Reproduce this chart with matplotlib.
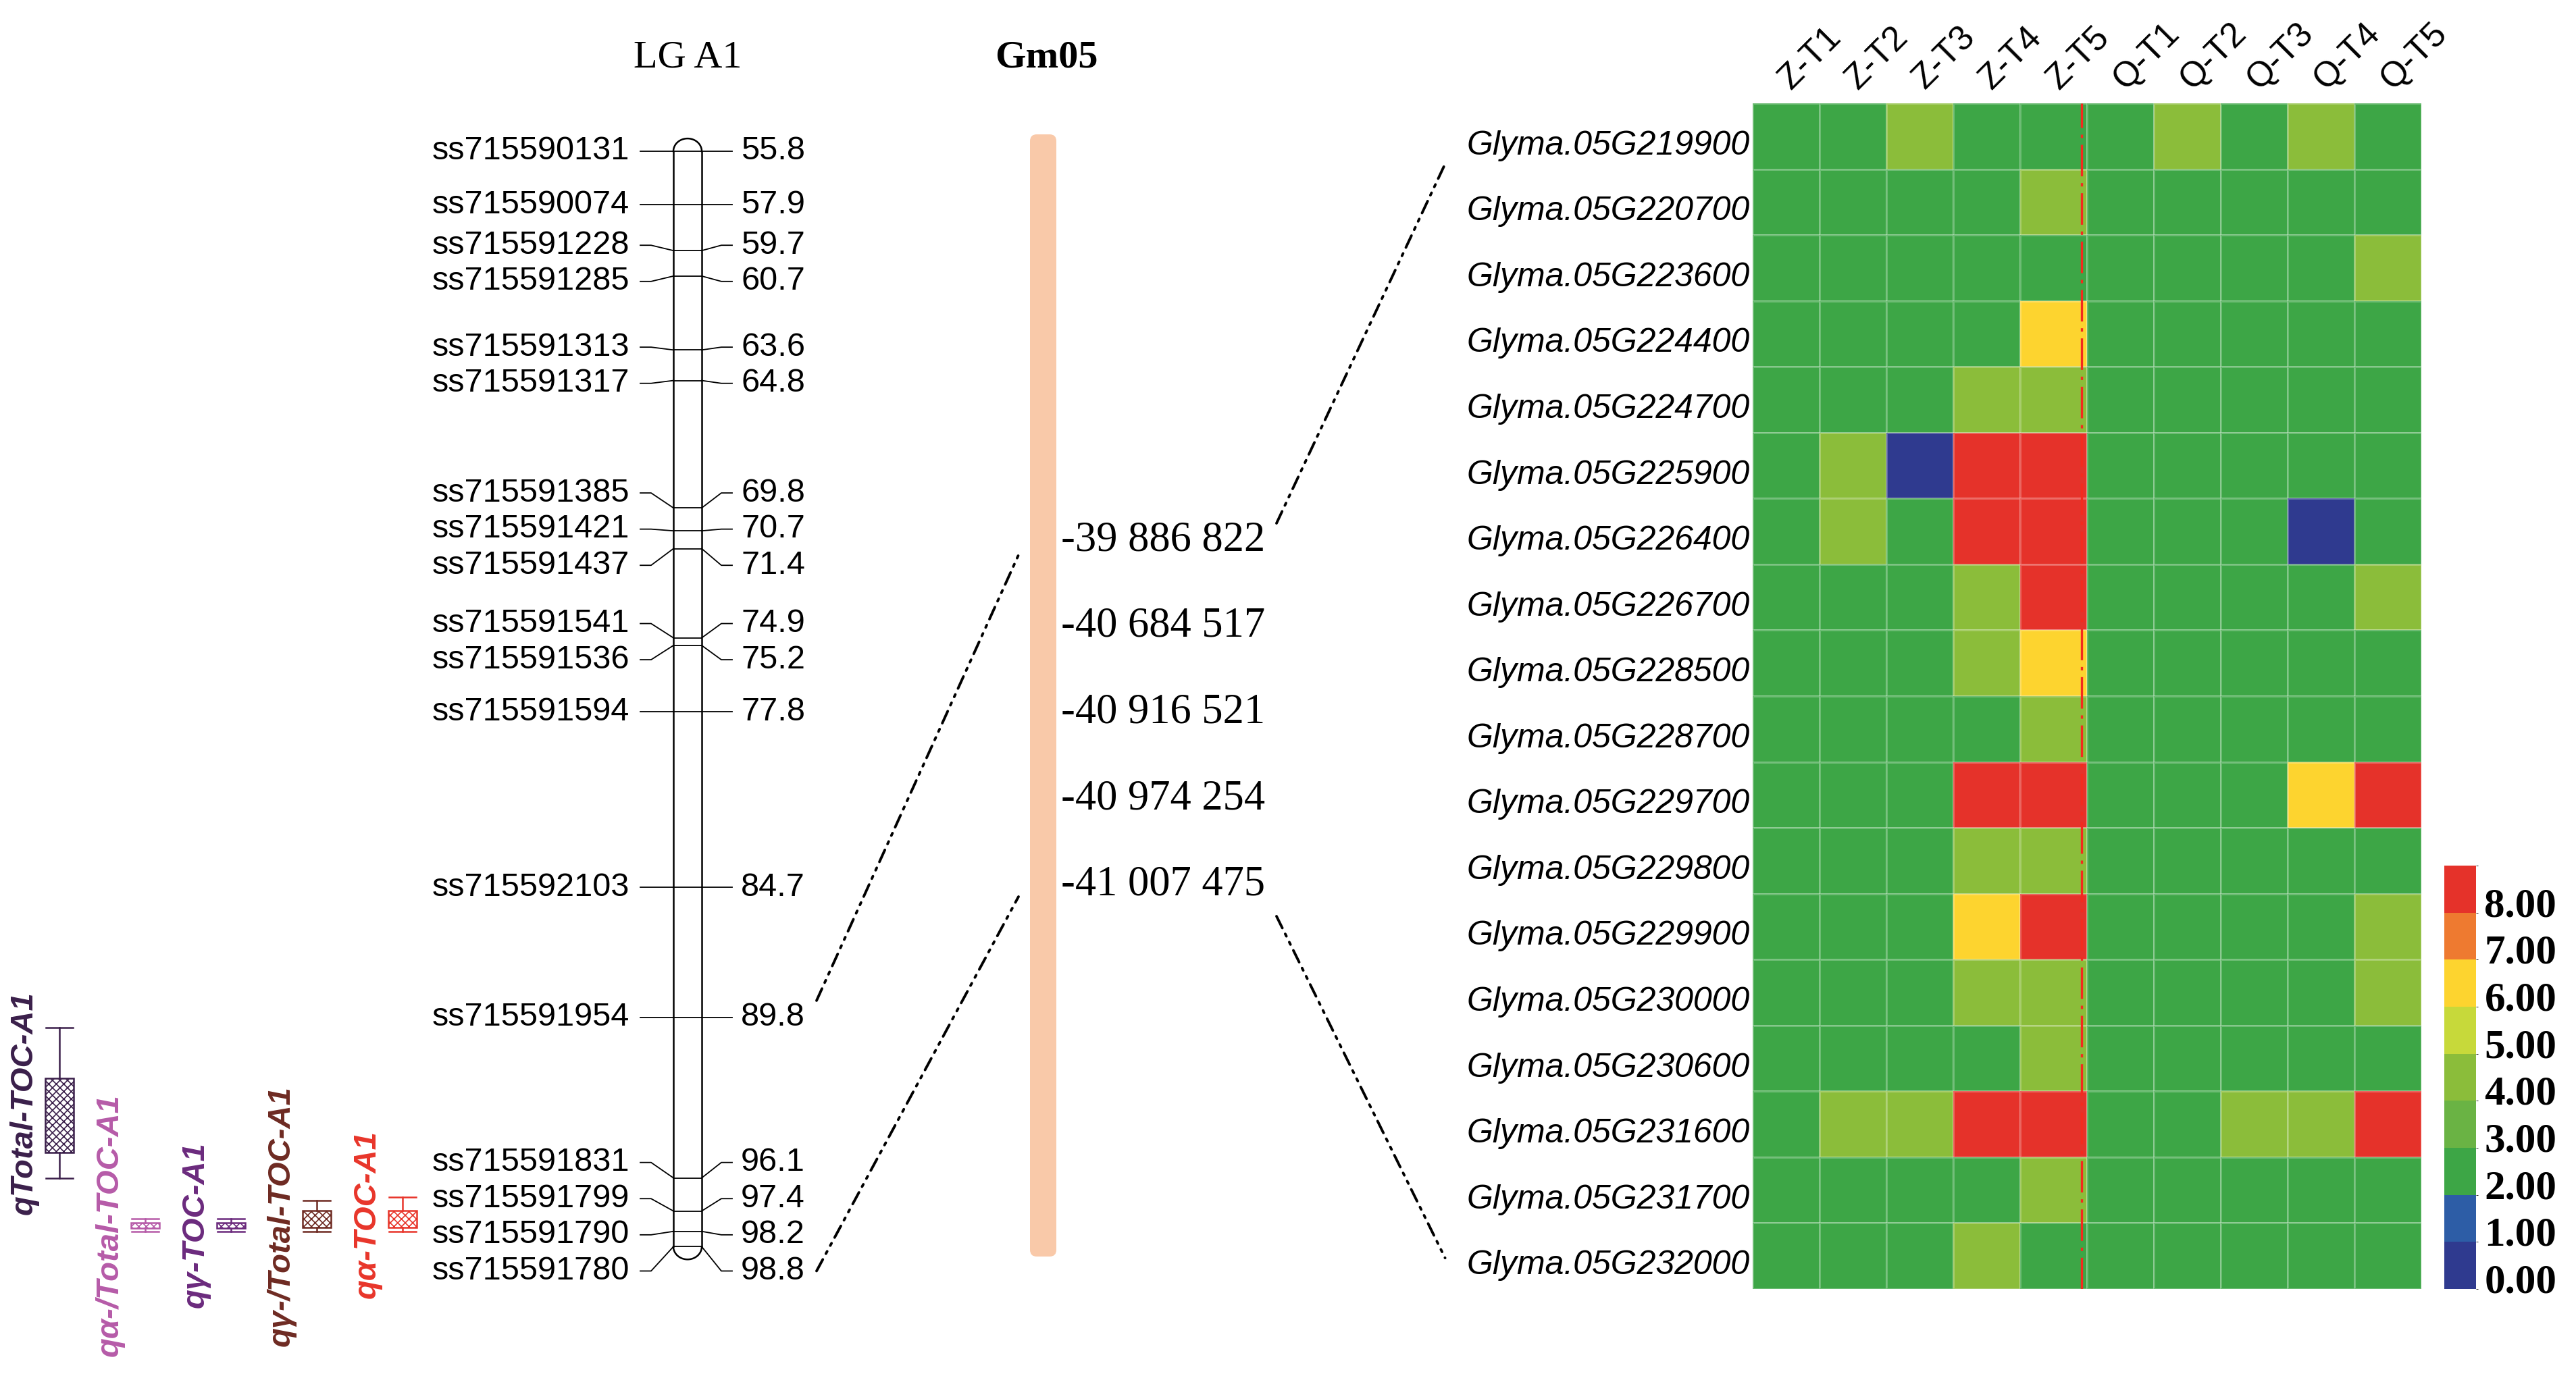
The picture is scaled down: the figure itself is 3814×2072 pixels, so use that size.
import matplotlib

matplotlib.use('Agg')
import matplotlib.pyplot as plt
import numpy as np
from matplotlib.colors import ListedColormap, BoundaryNorm
from matplotlib.cm import ScalarMappable
from matplotlib.patches import Rectangle, FancyBboxPatch, ConnectionPatch
from matplotlib.transforms import ScaledTranslation

plt.rcParams['font.family'] = ['Liberation Sans', 'DejaVu Sans']
plt.rcParams['hatch.linewidth'] = 1.2

W, H = 3814, 2072  # output size in pixels at dpi 100

# linkage group LG A1
markers = ['ss715590131', 'ss715590074', 'ss715591228', 'ss715591285', 'ss715591313',
           'ss715591317', 'ss715591385', 'ss715591421', 'ss715591437', 'ss715591541',
           'ss715591536', 'ss715591594', 'ss715592103', 'ss715591954', 'ss715591831',
           'ss715591799', 'ss715591790', 'ss715591780']
marker_cm = [55.8, 57.9, 59.7, 60.7, 63.6, 64.8, 69.8, 70.7, 71.4, 74.9, 75.2, 77.8,
             84.7, 89.8, 96.1, 97.4, 98.2, 98.8]

# QTL support intervals (cM)
qtl_names = ['qTotal-TOC-A1', 'qα-/Total-TOC-A1', 'qγ-TOC-A1', 'qγ-/Total-TOC-A1', 'qα-TOC-A1']
qtl_colors = ['#3a1f4a', '#b65ba8', '#6b2a7d', '#6e2a22', '#e8352a']
qtl_lo = [90.2, 97.7, 97.7, 97.0, 96.85]
qtl_q1 = [92.2, 97.86, 97.86, 97.38, 97.38]
qtl_q3 = [95.1, 98.07, 98.07, 98.05, 98.05]
qtl_hi = [96.1, 98.2, 98.2, 98.2, 98.2]

# physical positions on Gm05
gm05_pos = ['-39 886 822', '-40 684 517', '-40 916 521', '-40 974 254', '-41 007 475']

# expression heatmap
genes = ['Glyma.05G219900', 'Glyma.05G220700', 'Glyma.05G223600', 'Glyma.05G224400',
         'Glyma.05G224700', 'Glyma.05G225900', 'Glyma.05G226400', 'Glyma.05G226700',
         'Glyma.05G228500', 'Glyma.05G228700', 'Glyma.05G229700', 'Glyma.05G229800',
         'Glyma.05G229900', 'Glyma.05G230000', 'Glyma.05G230600', 'Glyma.05G231600',
         'Glyma.05G231700', 'Glyma.05G232000']
samples = ['Z-T1', 'Z-T2', 'Z-T3', 'Z-T4', 'Z-T5', 'Q-T1', 'Q-T2', 'Q-T3', 'Q-T4', 'Q-T5']
expr = [
    [2, 2, 4, 2, 2, 2, 4, 2, 4, 2],
    [2, 2, 2, 2, 4, 2, 2, 2, 2, 2],
    [2, 2, 2, 2, 2, 2, 2, 2, 2, 4],
    [2, 2, 2, 2, 6, 2, 2, 2, 2, 2],
    [2, 2, 2, 4, 4, 2, 2, 2, 2, 2],
    [2, 4, 0, 8, 8, 2, 2, 2, 2, 2],
    [2, 4, 2, 8, 8, 2, 2, 2, 0, 2],
    [2, 2, 2, 4, 8, 2, 2, 2, 2, 4],
    [2, 2, 2, 4, 6, 2, 2, 2, 2, 2],
    [2, 2, 2, 2, 4, 2, 2, 2, 2, 2],
    [2, 2, 2, 8, 8, 2, 2, 2, 6, 8],
    [2, 2, 2, 4, 4, 2, 2, 2, 2, 2],
    [2, 2, 2, 6, 8, 2, 2, 2, 2, 4],
    [2, 2, 2, 4, 4, 2, 2, 2, 2, 4],
    [2, 2, 2, 2, 4, 2, 2, 2, 2, 2],
    [2, 4, 4, 8, 8, 2, 2, 4, 4, 8],
    [2, 2, 2, 2, 4, 2, 2, 2, 2, 2],
    [2, 2, 2, 4, 2, 2, 2, 2, 2, 2],
]
level_colors = ['#2f3a8f', '#2d5da6', '#3da646', '#6ab344', '#8bbd3a',
                '#c7d93a', '#fdd42f', '#ee7a30', '#e5322a']
level_ticks = [0, 1, 2, 3, 4, 5, 6, 7, 8]
level_labels = ['0.00', '1.00', '2.00', '3.00', '4.00', '5.00', '6.00', '7.00', '8.00']


def spread(pos, gap):
    # push crowded labels apart, keeping each cluster centred on its markers
    groups = []
    for p in pos:
        groups.append([p])
        while len(groups) > 1:
            a, b = groups[-2], groups[-1]
            end_a = np.mean(a) + (len(a) - 1) / 2 * gap
            start_b = np.mean(b) - (len(b) - 1) / 2 * gap
            if start_b - end_a < gap:
                groups[-2:] = [a + b]
            else:
                break
    out = []
    for g in groups:
        c = np.mean(g)
        out += [c + (i - (len(g) - 1) / 2) * gap for i in range(len(g))]
    return out


def rect(x0, y0, x1, y1):
    # figure rect from a pixel box, origin top-left
    return [x0 / W, 1 - y1 / H, (x1 - x0) / W, (y1 - y0) / H]


fig = plt.figure(figsize=(W / 100, H / 100), dpi=100)
fig.patch.set_facecolor('white')

ov = fig.add_axes([0, 0, 1, 1])
ov.set_xlim(0, W)
ov.set_ylim(H, 0)
ov.axis('off')

# ---- linkage map, y axis in cM
px_per_cm = 37.73
cm_top, cm_bot = 52.0, 104.5
y_first = 224
ax_map = fig.add_axes(rect(0, y_first - (marker_cm[0] - cm_top) * px_per_cm,
                           1250, y_first + (cm_bot - marker_cm[0]) * px_per_cm))
ax_map.set_xlim(0, 1250)
ax_map.set_ylim(cm_bot, cm_top)
ax_map.axis('off')

xl, xr = 997, 1039
xc, r, ry = (xl + xr) / 2, (xr - xl) / 2, 0.5
for x in (xl, xr):
    ax_map.plot([x, x], [marker_cm[0], marker_cm[-1]], color='k', lw=1.8)
t = np.linspace(0, np.pi, 60)
ax_map.plot(xc + r * np.cos(t), marker_cm[0] - ry * np.sin(t), color='k', lw=1.8)
ax_map.plot(xc + r * np.cos(t), marker_cm[-1] + ry * np.sin(t), color='k', lw=1.8)

lab = spread(marker_cm, 1.42)
for name, cm, ly in zip(markers, marker_cm, lab):
    ax_map.plot([xl, xr], [cm, cm], color='k', lw=1.3)
    ax_map.plot([948, 964, xl], [ly, ly, cm], color='k', lw=1.3)
    ax_map.plot([xr, 1068, 1084], [cm, ly, ly], color='k', lw=1.3)
    ax_map.text(932, ly, name, ha='right', va='center', fontsize=35)
    ax_map.text(1097, ly, f'{cm:.1f}', ha='left', va='center', fontsize=35)

qx = [88, 215, 342, 469, 596]
for x, name, c, lo, q1, q3, hi in zip(qx, qtl_names, qtl_colors, qtl_lo, qtl_q1, qtl_q3, qtl_hi):
    ax_map.add_patch(Rectangle((x - 21, q1), 42, q3 - q1, fill=False, hatch='xxx', ec=c, lw=1.8))
    ax_map.plot([x, x], [lo, q1], color=c, lw=1.8)
    ax_map.plot([x, x], [q3, hi], color=c, lw=1.8)
    ax_map.plot([x - 20, x + 20], [lo, lo], color=c, lw=1.8)
    ax_map.plot([x - 20, x + 20], [hi, hi], color=c, lw=1.8)
    ax_map.text(x - 52, (lo + hi) / 2, name, rotation=90, ha='center', va='center',
                fontsize=34, fontweight='bold', fontstyle='italic', color=c)

# ---- Gm05 physical chromosome
ov.text(1018, 85, 'LG A1', ha='center', va='center', fontsize=42, family='Liberation Serif')
ov.text(1549, 85, 'Gm05', ha='center', va='center', fontsize=42, family='Liberation Serif',
        fontweight='bold')
ov.add_patch(FancyBboxPatch((1525, 199), 39, 1662, boxstyle='round,pad=0,rounding_size=10',
                            fc='#f9c9a9', ec='none'))
pos_y = 800 + 127.75 * np.arange(len(gm05_pos))
for s, y in zip(gm05_pos, pos_y):
    ov.text(1571, y, s, ha='left', va='center', fontsize=45, family='Liberation Serif')

# ---- heatmap
cmap = ListedColormap(level_colors)
norm = BoundaryNorm(np.arange(len(level_colors) + 1) - 0.23, len(level_colors))
ax_h = fig.add_axes(rect(2595, 153, 3585, 1909))
ax_h.pcolormesh(np.array(expr), cmap=cmap, norm=norm, edgecolors=(1, 1, 1, 0.25), linewidth=1)
ax_h.set_xlim(0, len(samples))
ax_h.set_ylim(len(genes), 0)
ax_h.xaxis.tick_top()
ax_h.set_yticks(np.arange(len(genes)) + 0.5, genes, fontsize=36, fontstyle='italic')
ax_h.set_xticks(np.arange(len(samples)) + 0.5, samples, fontsize=37, rotation=45,
                ha='left', va='bottom', rotation_mode='anchor')
ax_h.tick_params(length=0)
ax_h.tick_params(axis='x', pad=8)
ax_h.tick_params(axis='y', pad=3)
shift_x = ScaledTranslation(0.15, 0, fig.dpi_scale_trans)
for lb in ax_h.get_xticklabels():
    lb.set_transform(lb.get_transform() + shift_x)
shift_y = ScaledTranslation(0, -0.09, fig.dpi_scale_trans)
for lb in ax_h.get_yticklabels():
    lb.set_transform(lb.get_transform() + shift_y)
for s in ax_h.spines.values():
    s.set_visible(False)
ax_h.axvline(4.92, color='#f42a1e', lw=2.4, ls=(0, (14, 3, 1.5, 3)))

cax = fig.add_axes(rect(3619, 1282, 3666, 1909))
cb = fig.colorbar(ScalarMappable(norm=norm, cmap=cmap), cax=cax, ticks=level_ticks,
                  spacing='proportional')
cb.set_ticklabels(level_labels)
cb.outline.set_visible(False)
cax.tick_params(length=0, pad=9)
for lb in cax.get_yticklabels():
    lb.set_fontfamily('Liberation Serif')
    lb.set_fontweight('bold')
    lb.set_fontsize(44)


# ---- dash-dot guide lines
def link(xy_a, ax_a, xy_b, ax_b):
    con = ConnectionPatch(xyA=xy_a, coordsA=ax_a.transData, xyB=xy_b, coordsB=ax_b.transData,
                          color='k', lw=2.8, ls=(0, (5, 2.5, 1, 2.5, 1, 2.5)))
    fig.add_artist(con)


link((1209, lab[13] - 0.66), ax_map, (1508, pos_y[0] + 22), ov)
link((1209, lab[-1]), ax_map, (1508, pos_y[-1] + 17), ov)
link((1890, pos_y[0] - 25), ov, (-4.6, 0.92), ax_h)
link((1890, pos_y[-1] + 46), ov, (-4.6, 17.53), ax_h)

fig.savefig('out.png', dpi=100, facecolor='white')
